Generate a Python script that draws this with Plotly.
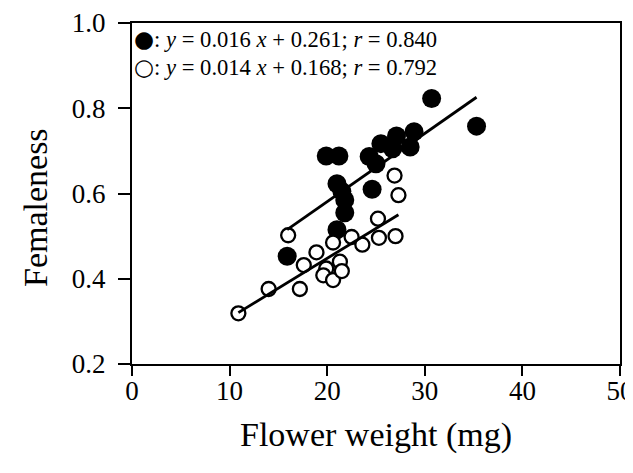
import plotly.graph_objects as go

# Filled circles (group 1)
filled_x = [15.9, 21.0, 21.8, 21.8, 21.5, 21.0, 19.9, 21.2, 24.3, 24.6, 25.0, 25.5, 26.7, 27.1, 28.5, 28.9, 30.7, 35.3]
filled_y = [0.453, 0.515, 0.555, 0.585, 0.605, 0.623, 0.688, 0.688, 0.687, 0.610, 0.670, 0.717, 0.705, 0.735, 0.709, 0.745, 0.823, 0.758]

# Open circles (group 2)
open_x = [10.9, 14.0, 17.2, 16.0, 17.6, 18.9, 20.6, 19.9, 19.6, 20.6, 21.3, 21.5, 22.5, 23.6, 25.3, 25.2, 27.0, 26.9, 27.3]
open_y = [0.319, 0.376, 0.376, 0.502, 0.432, 0.462, 0.485, 0.424, 0.408, 0.397, 0.440, 0.418, 0.498, 0.480, 0.496, 0.541, 0.500, 0.642, 0.596]

# Regression coefficients
filled_slope, filled_icpt, filled_r = 0.016, 0.261, 0.840
open_slope, open_icpt, open_r = 0.014, 0.168, 0.792

x_ticks = [0, 10, 20, 30, 40, 50]
y_ticks = [0.2, 0.4, 0.6, 0.8, 1.0]

FONT = "Liberation Serif, Times New Roman, serif"

fig = go.Figure()

fig.add_trace(go.Scatter(
    x=filled_x, y=filled_y, mode="markers",
    marker=dict(symbol="circle", size=19, color="black", line=dict(width=0)),
    showlegend=False, cliponaxis=False))

fig.add_trace(go.Scatter(
    x=open_x, y=open_y, mode="markers",
    marker=dict(symbol="circle", size=14, color="white", line=dict(width=2.3, color="black")),
    showlegend=False, cliponaxis=False))

fx = [min(filled_x), max(filled_x)]
fig.add_trace(go.Scatter(x=fx, y=[filled_slope * v + filled_icpt for v in fx], mode="lines",
                         line=dict(color="black", width=2.8), showlegend=False))
ox = [min(open_x), max(open_x)]
fig.add_trace(go.Scatter(x=ox, y=[open_slope * v + open_icpt for v in ox], mode="lines",
                         line=dict(color="black", width=2.8), showlegend=False))

def eq_text(sym, s, b, r):
    return (f"<span style='font-family:DejaVu Sans;font-size:23px'>{sym}</span>"
            f": <i>y</i> = {s:.3f} <i>x</i> + {b:.3f}; <i>r</i> = {r:.3f}")

fig.add_annotation(xref="paper", yref="paper", x=0.0, y=0.953, xanchor="left", yanchor="middle",
                   text=eq_text("●", filled_slope, filled_icpt, filled_r), showarrow=False,
                   font=dict(family=FONT, size=22.6, color="black"))
fig.add_annotation(xref="paper", yref="paper", x=0.0, y=0.870, xanchor="left", yanchor="middle",
                   text=eq_text("○", open_slope, open_icpt, open_r), showarrow=False,
                   font=dict(family=FONT, size=22.6, color="black"))

# y-axis title placed as an annotation (it sits a little below the axis centre)
fig.add_annotation(xref="paper", yref="paper", x=-0.199, y=0.46, xanchor="center", yanchor="middle",
                   text="Femaleness", textangle=-90, showarrow=False,
                   font=dict(family=FONT, size=34, color="black"))

# The page body has an 8px default margin, so the figure is drawn 8px smaller
# and its margins are reduced by 8px on the left/top.
fig.update_layout(
    width=625, height=465,
    margin=dict(l=124, r=13, t=15, b=109),
    paper_bgcolor="white", plot_bgcolor="white",
    font=dict(family=FONT, color="black"),
    xaxis=dict(range=[0, 50], tickvals=x_ticks, ticktext=[str(v) for v in x_ticks],
               automargin=False, ticklabeloverflow="allow", ticklabelstandoff=-8,
               showgrid=False, zeroline=False, showline=True, linecolor="black", linewidth=2,
               mirror=True, ticks="outside", ticklen=10, tickwidth=2, tickcolor="black",
               tickfont=dict(family=FONT, size=27, color="black"),
               title=dict(text="Flower weight (mg)", font=dict(family=FONT, size=34, color="black"), standoff=17)),
    yaxis=dict(range=[0.2, 1.0], tickvals=y_ticks, ticktext=[f"{v:.1f}" for v in y_ticks],
               automargin=False, ticklabeloverflow="allow", ticklabelstandoff=7,
               showgrid=False, zeroline=False, showline=True, linecolor="black", linewidth=2,
               mirror=True, ticks="outside", ticklen=12, tickwidth=2, tickcolor="black",
               tickfont=dict(family=FONT, size=27, color="black")),
)

fig.write_html("out.html")
